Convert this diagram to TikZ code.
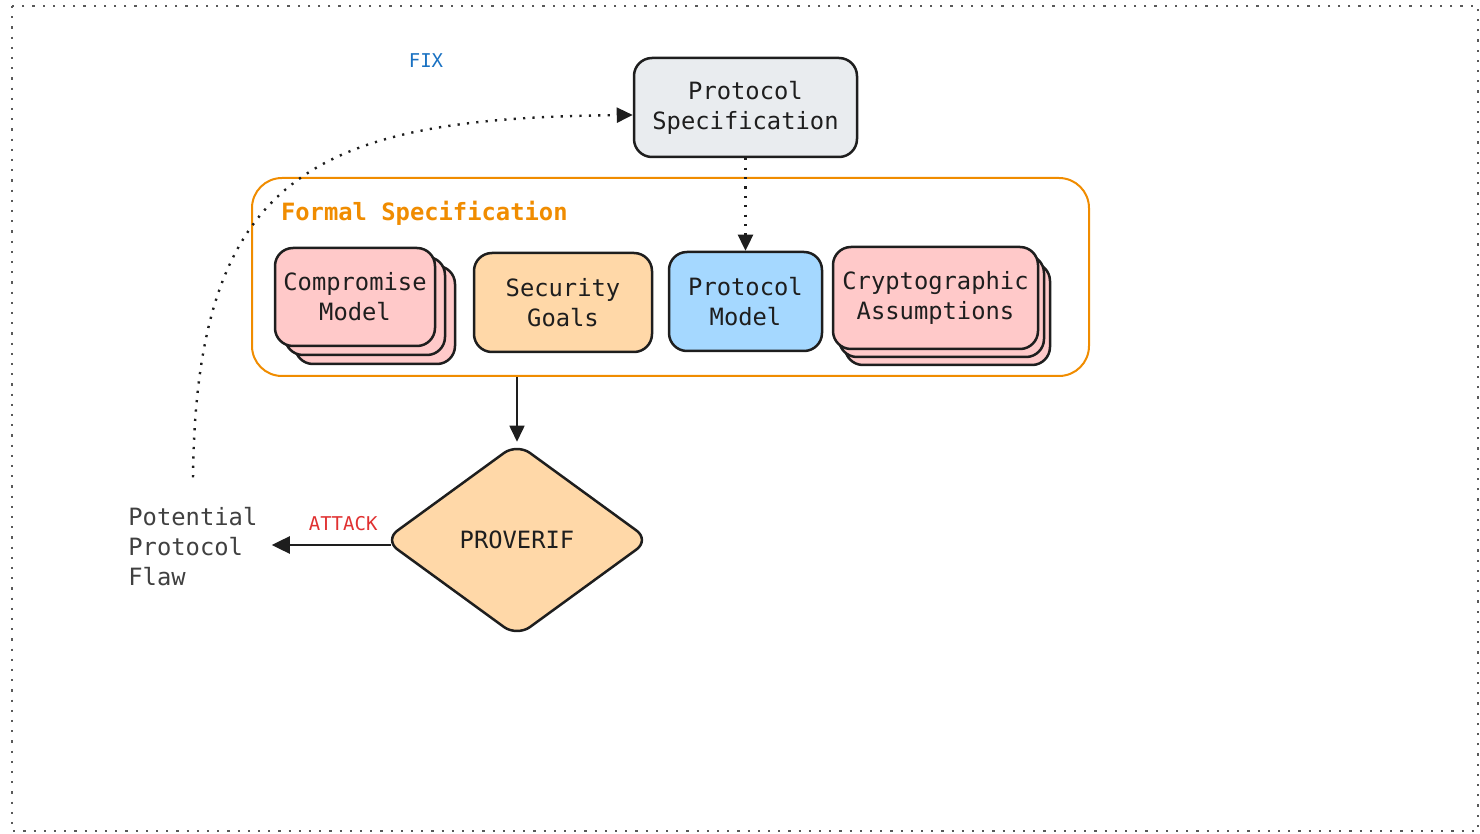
\documentclass[tikz,border=0pt]{standalone}
\usepackage{fontspec}
\newfontfamily\diagfont{DejaVu Sans Mono}
\usetikzlibrary{arrows.meta,shapes.geometric,shadows}
\definecolor{specgray}{HTML}{E9ECEF}
\definecolor{stackpink}{HTML}{FFC9C9}
\definecolor{goalorange}{HTML}{FFD8A8}
\definecolor{modelblue}{HTML}{A5D8FF}
\definecolor{frameorange}{HTML}{F08C00}
\definecolor{fixblue}{HTML}{1971C2}
\definecolor{attackred}{HTML}{E03131}
\definecolor{inkblack}{HTML}{1E1E1E}
\tikzset{
 card/.style={draw=inkblack,line width=1.25pt,rounded corners=9pt,align=center,inner sep=0pt},
 stackcard/.style 2 args={card,fill=stackpink,double copy shadow={shadow xshift=#1,shadow yshift=#2,draw=inkblack,line width=1.25pt,fill=stackpink}},
 flowarrow/.style={draw=inkblack,line width=0.8pt,-{Triangle[length=8pt,width=7.5pt]}},
 dotarrow/.style={flowarrow,line width=1.2pt,dash pattern=on 1.1pt off 3.6pt},
}
\begin{document}
\begin{tikzpicture}[x=0.5pt,y=-0.5pt,font=\diagfont\fontsize{11.9}{15}\selectfont,text=inkblack]
\useasboundingbox (0,0) rectangle (1480,834);
\draw[gray!70!black,line width=1.2pt,dash pattern=on 1.1pt off 4pt] (12,6) rectangle (1478,831);
% top of the loop
\node[card,fill=specgray,minimum width=111.5pt,minimum height=49.5pt] (spec) at (745.5,107.5) {Protocol\\Specification};
\node[draw=frameorange,line width=1pt,rounded corners=15pt,minimum width=418.5pt,minimum height=99pt] (formal) at (670.5,277) {};
\node[anchor=west,text=frameorange,font=\diagfont\bfseries\fontsize{11.9}{15}\selectfont] (formaltitle) at (274,213) {Formal Specification};
\node[stackcard={5pt}{-4.5pt},minimum width=80pt,minimum height=49pt] (compromise) at (355,297) {Compromise\\Model};
\node[card,fill=goalorange,minimum width=89pt,minimum height=49.5pt] (goals) at (563,302.5) {Security\\Goals};
\node[card,fill=modelblue,minimum width=76.5pt,minimum height=49.5pt] (model) at (745.5,301.5) {Protocol\\Model};
\node[stackcard={3pt}{-4pt},minimum width=102.5pt,minimum height=51pt] (crypto) at (935.5,298) {Cryptographic\\Assumptions};
% checker and result
\node[diamond,draw=inkblack,line width=1.25pt,fill=goalorange,rounded corners=8pt,minimum width=133pt,minimum height=97pt,inner sep=0pt] (proverif) at (517,540) {PROVERIF};
\node[anchor=west,align=left,inner sep=7pt,text=inkblack!85] (flaw) at (114,547) {Potential\\Protocol\\Flaw};
\node[text=fixblue,font=\diagfont\fontsize{9.5}{11}\selectfont] (fix) at (426,61) {FIX};
\draw[dotarrow] (spec.south) -- (model.north);
\draw[flowarrow] (formal.south -| proverif.north) -- (proverif.north);
\draw[flowarrow,line width=1.25pt,-{Triangle[length=9pt,width=8.5pt]}] ([xshift=4pt,yshift=-2.5pt]proverif.west) -- ([yshift=-2.5pt]proverif.west -| flaw.east)
 node[pos=0.4,above=3pt,text=attackred,font=\diagfont\fontsize{9.5}{11}\selectfont] (attack) {ATTACK};
\draw[dotarrow,shorten <=8pt] (flaw.north) .. controls (196,170) and (320,118) .. ([yshift=-3.75pt]spec.west);
\end{tikzpicture}
\end{document}
